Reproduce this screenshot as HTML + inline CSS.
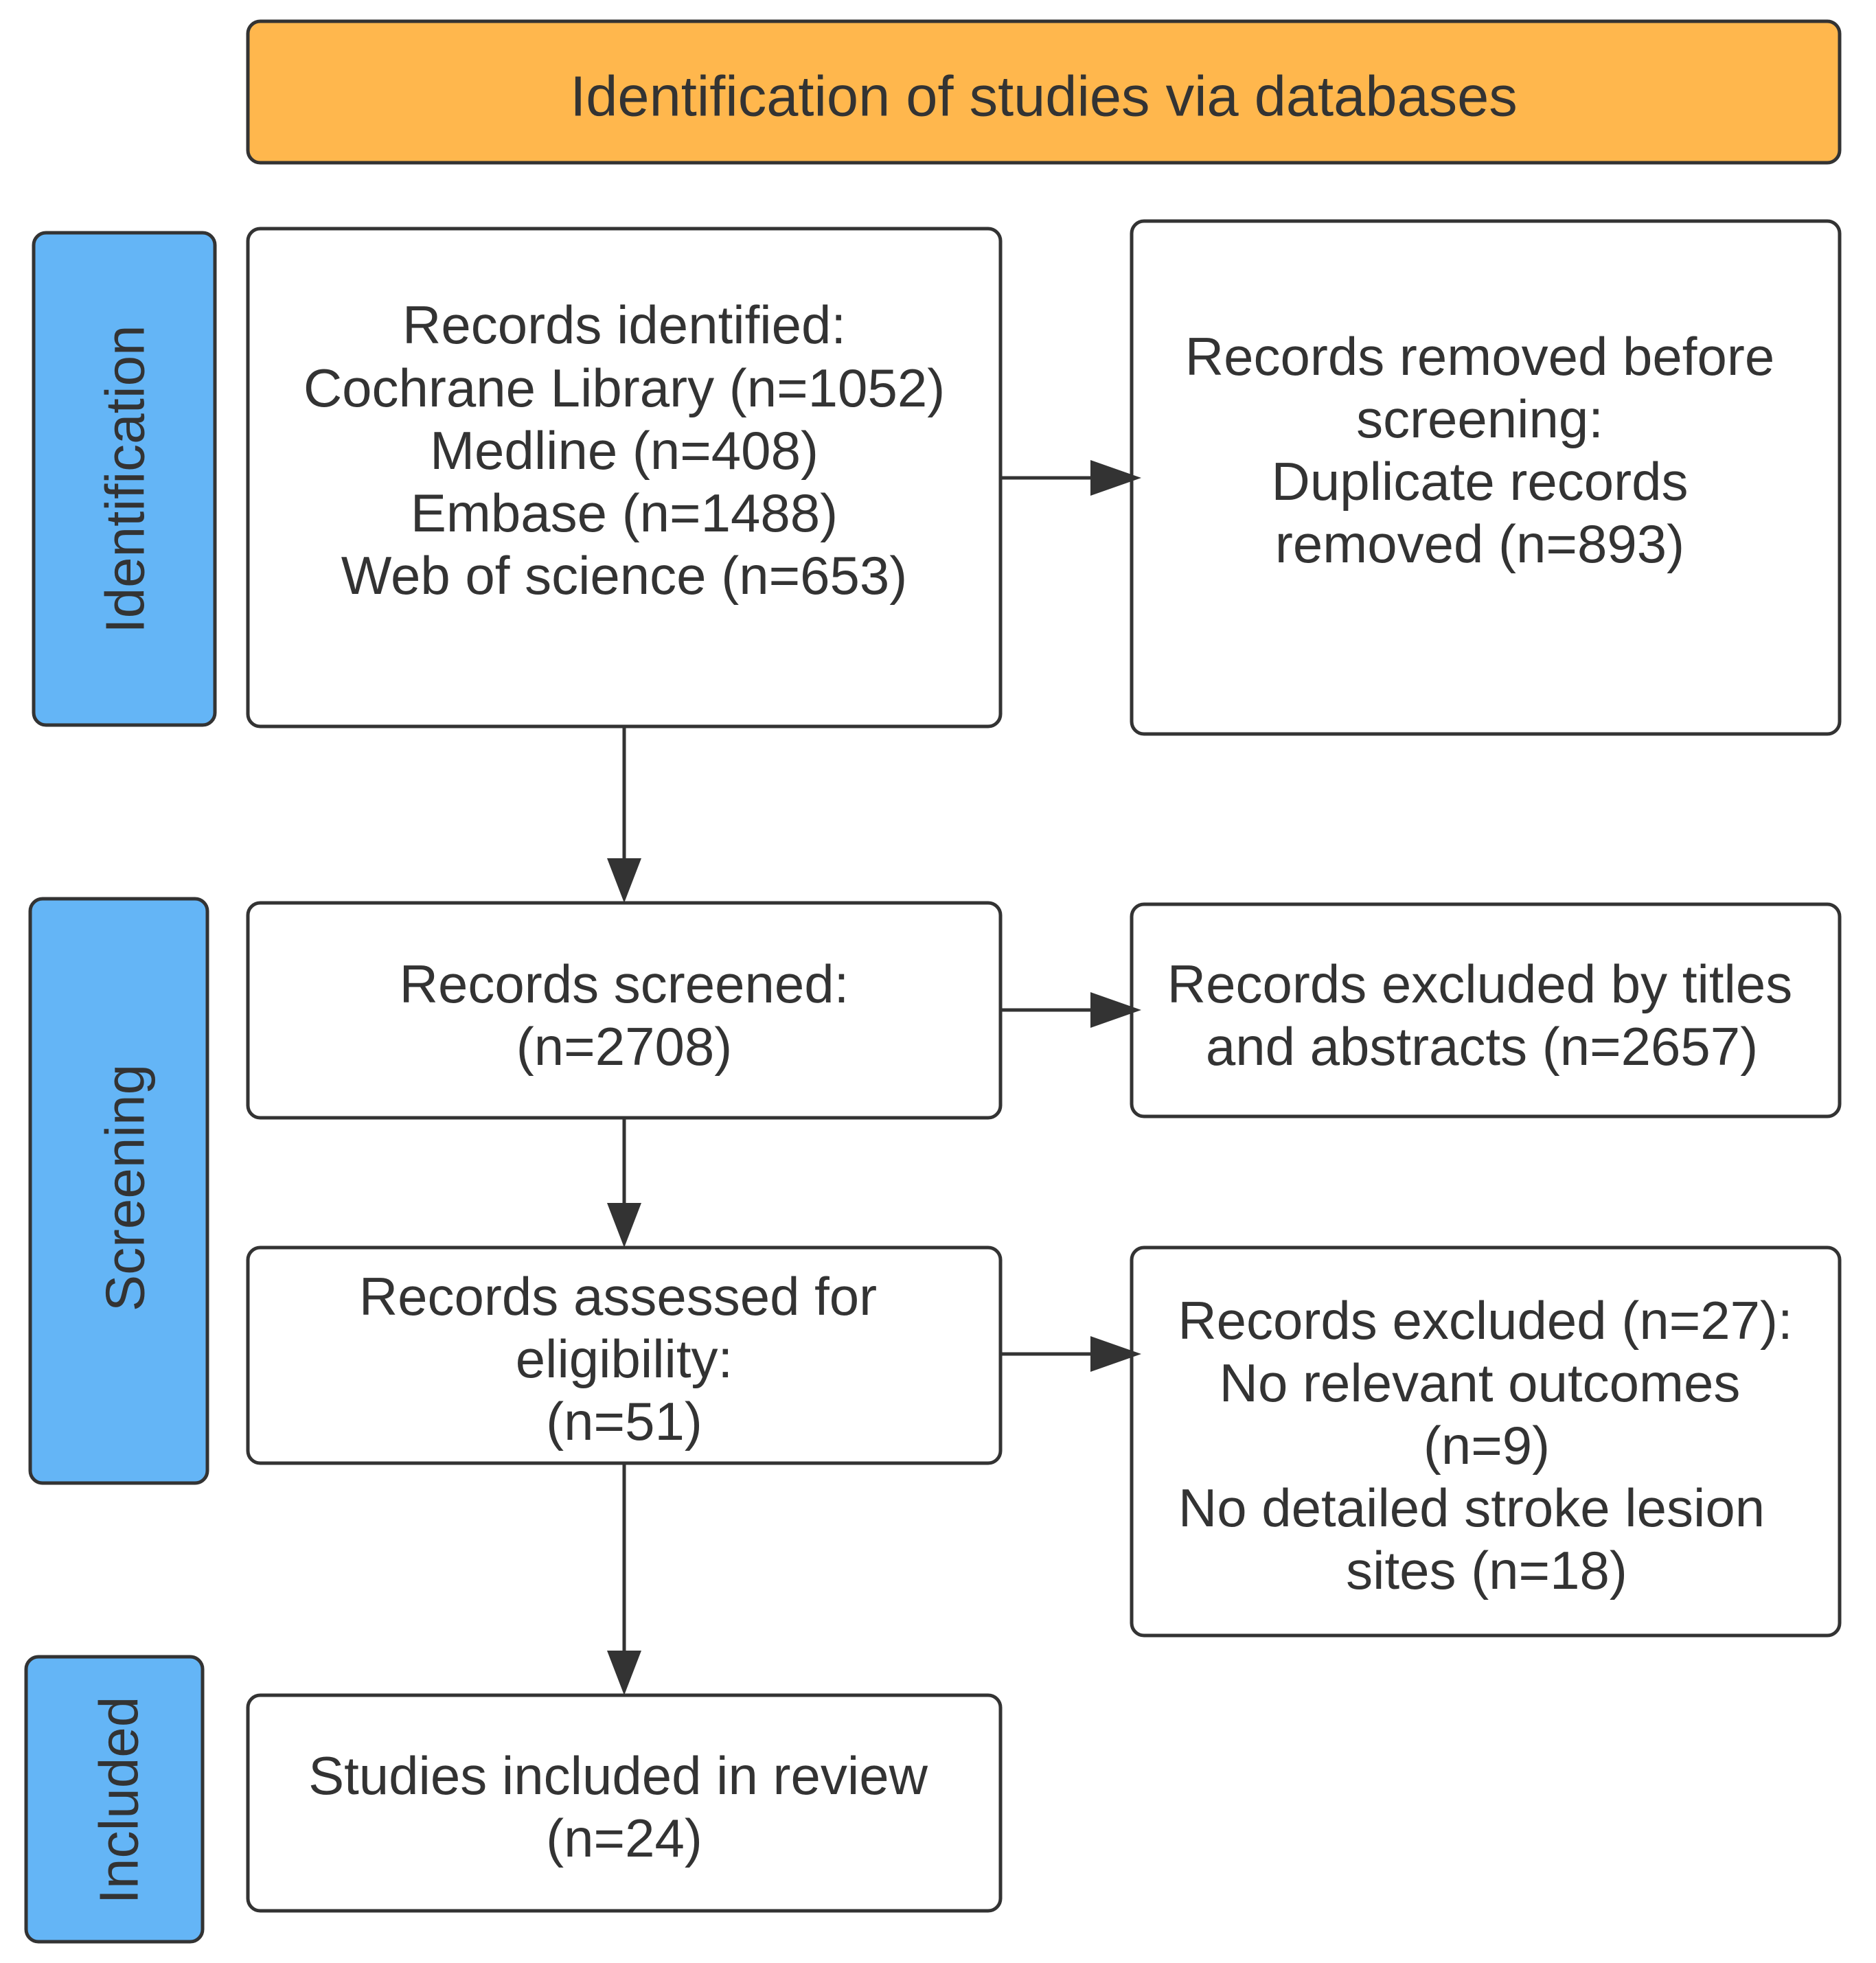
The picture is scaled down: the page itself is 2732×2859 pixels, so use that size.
<!DOCTYPE html>
<html><head><meta charset="utf-8"><style>
html,body{margin:0;padding:0;background:#fff;}
svg{display:block;}
text{font-family:"Liberation Sans",Arial,sans-serif;fill:#333;font-size:78px;text-anchor:middle;dominant-baseline:central;}
.t{font-size:83px;}
.s{font-size:80px;}
</style></head><body>
<svg width="2732" height="2859" viewBox="0 0 2732 2859" xmlns="http://www.w3.org/2000/svg">
<g stroke="#333" stroke-width="5">
<rect x="361" y="31" width="2318" height="206" rx="18" fill="#ffb74d"/>
<rect x="49" y="339" width="264" height="717" rx="18" fill="#64b5f6"/>
<rect x="44" y="1309" width="258" height="851" rx="18" fill="#64b5f6"/>
<rect x="38" y="2413" width="257" height="415" rx="18" fill="#64b5f6"/>
<rect x="361" y="333" width="1096" height="725" rx="18" fill="#fff"/>
<rect x="1648" y="322" width="1031" height="747" rx="18" fill="#fff"/>
<rect x="361" y="1315" width="1096" height="313" rx="18" fill="#fff"/>
<rect x="1648" y="1317" width="1031" height="309" rx="18" fill="#fff"/>
<rect x="361" y="1817" width="1096" height="314" rx="18" fill="#fff"/>
<rect x="1648" y="1817" width="1031" height="565" rx="18" fill="#fff"/>
<rect x="361" y="2469" width="1096" height="314" rx="18" fill="#fff"/>
<line x1="909" y1="1058" x2="909" y2="1250"/>
<line x1="909" y1="1628" x2="909" y2="1752"/>
<line x1="909" y1="2131" x2="909" y2="2404"/>
<line x1="1457" y1="696" x2="1590" y2="696"/>
<line x1="1457" y1="1471" x2="1590" y2="1471"/>
<line x1="1457" y1="1972" x2="1590" y2="1972"/>
</g>
<g fill="#333">
<polygon points="884,1250 934,1250 909,1315"/>
<polygon points="884,1752 934,1752 909,1817"/>
<polygon points="884,2404 934,2404 909,2469"/>
<polygon points="1588,670 1588,722 1662,696"/>
<polygon points="1588,1445 1588,1497 1662,1471"/>
<polygon points="1588,1946 1588,1998 1662,1972"/>
</g>
<text class="t" x="1520" y="140">Identification of studies via databases</text>
<text class="s" transform="translate(182,698) rotate(-90)">Identification</text>
<text class="s" transform="translate(182,1730) rotate(-90)">Screening</text>
<text class="s" transform="translate(173,2622) rotate(-90)">Included</text>
<text x="909" y="473">Records identified:</text>
<text x="909" y="565">Cochrane Library (n=1052)</text>
<text x="909" y="656">Medline (n=408)</text>
<text x="909" y="747">Embase (n=1488)</text>
<text x="909" y="838">Web of science (n=653)</text>
<text x="2155" y="519">Records removed before</text>
<text x="2155" y="610">screening:</text>
<text x="2155" y="701">Duplicate records</text>
<text x="2155" y="792">removed (n=893)</text>
<text x="909" y="1433">Records screened:</text>
<text x="909" y="1524">(n=2708)</text>
<text x="2155" y="1433">Records excluded by titles</text>
<text x="2158" y="1524">and abstracts (n=2657)</text>
<text x="900" y="1888">Records assessed for</text>
<text x="909" y="1979">eligibility:</text>
<text x="909" y="2070">(n=51)</text>
<text x="2163" y="1923">Records excluded (n=27):</text>
<text x="2155" y="2014">No relevant outcomes</text>
<text x="2165" y="2105">(n=9)</text>
<text x="2143" y="2196">No detailed stroke lesion</text>
<text x="2165" y="2287">sites (n=18)</text>
<text x="900" y="2586">Studies included in review</text>
<text x="909" y="2677">(n=24)</text>
</svg>
</body></html>
